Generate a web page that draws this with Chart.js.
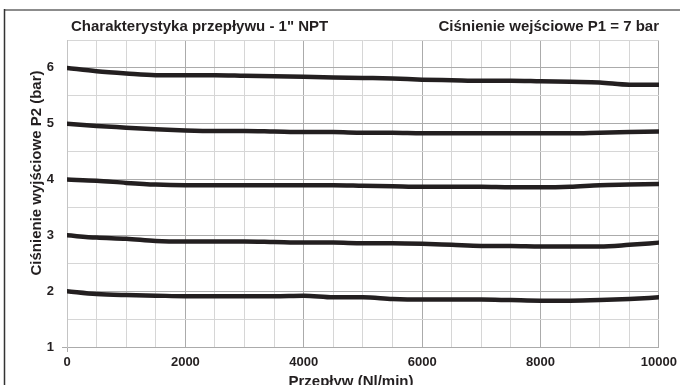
<!DOCTYPE html>
<html>
<head>
<meta charset="utf-8">
<script src="https://cdn.jsdelivr.net/npm/chart.js@4.4.0/dist/chart.umd.min.js"></script>
<style>
  html, body { margin: 0; padding: 0; background: #fff; }
  #wrap { width: 680px; height: 385px; position: relative; }
</style>
</head>
<body>
<div id="wrap"><canvas id="flowChart" width="680" height="385"></canvas></div>
<script>
const flow = [0, 500, 1000, 1500, 2000, 2500, 3000, 3500, 4000, 4500, 5000,
  5500, 6000, 6500, 7000, 7500, 8000, 8500, 9000, 9500, 10000];

const p2at6 = [6.00, 5.94, 5.90, 5.87, 5.87, 5.87, 5.86, 5.85, 5.84, 5.83, 5.82,
  5.81, 5.79, 5.78, 5.77, 5.77, 5.76, 5.75, 5.74, 5.70, 5.70];
const p2at5 = [5.00, 4.96, 4.93, 4.90, 4.88, 4.87, 4.87, 4.86, 4.85, 4.85, 4.84,
  4.84, 4.83, 4.83, 4.83, 4.83, 4.83, 4.83, 4.84, 4.85, 4.86];
const p2at4 = [4.00, 3.98, 3.94, 3.91, 3.90, 3.90, 3.90, 3.90, 3.90, 3.90, 3.89,
  3.88, 3.87, 3.87, 3.87, 3.86, 3.86, 3.87, 3.90, 3.91, 3.92];
const p2at3 = [3.00, 2.96, 2.94, 2.90, 2.89, 2.89, 2.89, 2.88, 2.87, 2.87, 2.86,
  2.86, 2.85, 2.83, 2.81, 2.81, 2.80, 2.80, 2.80, 2.83, 2.87];
const p2at2 = [2.00, 1.95, 1.93, 1.92, 1.91, 1.91, 1.91, 1.91, 1.92, 1.89, 1.89,
  1.86, 1.85, 1.85, 1.85, 1.84, 1.83, 1.83, 1.84, 1.86, 1.89];

const xTickLabels = [0, 2000, 4000, 6000, 8000, 10000];
const yTickLabels = [1, 2, 3, 4, 5, 6];

const chartTitle = 'Charakterystyka przepływu - 1" NPT';
const inletLabel = 'Ciśnienie wejściowe P1 = 7 bar';
const xTitle = 'Przepływ (Nl/min)';
const yTitle = 'Ciśnienie wyjściowe P2 (bar)';

const FONT = '"Liberation Sans", Arial, Helvetica, sans-serif';
const lineColor = '#231f20';
const majorGrid = '#ababab';
const minorGrid = '#d6d6d6';

const series = [p2at6, p2at5, p2at4, p2at3, p2at2];

const framePlugin = {
  id: 'frame',
  afterDraw(chart) {
    const ctx = chart.ctx;
    ctx.save();
    // outer frame bits
    ctx.strokeStyle = '#8c8c8c';
    ctx.lineWidth = 2;
    ctx.beginPath();
    ctx.moveTo(4, 10);
    ctx.lineTo(680, 10);
    ctx.stroke();
    ctx.strokeStyle = '#333';
    ctx.lineWidth = 1.5;
    ctx.beginPath();
    ctx.moveTo(4.5, 9);
    ctx.lineTo(4.5, 385);
    ctx.stroke();

    ctx.fillStyle = '#231f20';
    ctx.font = 'bold 15px ' + FONT;
    ctx.textBaseline = 'alphabetic';
    ctx.textAlign = 'left';
    ctx.fillText(chartTitle, 71, 31);
    ctx.textAlign = 'right';
    ctx.fillText(inletLabel, 659, 31);

    ctx.textAlign = 'center';
    ctx.fillText(xTitle, 351, 386);

    ctx.translate(41, 173);
    ctx.rotate(-Math.PI / 2);
    ctx.fillText(yTitle, 0, 0);
    ctx.restore();
  }
};

const ctx = document.getElementById('flowChart').getContext('2d');
new Chart(ctx, {
  type: 'line',
  data: {
    datasets: series.map(s => ({
      data: flow.map((f, i) => ({ x: f, y: s[i] })),
      borderColor: lineColor,
      borderWidth: 4.5,
      pointRadius: 0,
      cubicInterpolationMode: 'monotone',
      borderCapStyle: 'round',
      fill: false
    }))
  },
  options: {
    responsive: false,
    animation: false,
    layout: { padding: { left: 0, right: 21, top: 40, bottom: 0 } },
    plugins: {
      legend: { display: false },
      tooltip: { enabled: false }
    },
    scales: {
      x: {
        type: 'linear',
        min: 0,
        max: 10000,
        afterFit: scale => { scale.height = 38; },
        ticks: {
          stepSize: 500,
          autoSkip: false,
          maxRotation: 0,
          padding: 3,
          color: '#231f20',
          font: { family: FONT, size: 13, weight: 'bold' },
          callback: v => xTickLabels.includes(v) ? String(v) : ''
        },
        grid: {
          color: c => c.tick.value % 2000 === 0 ? majorGrid : minorGrid,
          tickLength: 5,
          tickColor: c => c.tick.value === 0 ? majorGrid : 'rgba(0,0,0,0)'
        },
        border: { color: majorGrid }
      },
      y: {
        min: 1,
        max: 6.5,
        afterFit: scale => { scale.width = 67; },
        ticks: {
          stepSize: 0.5,
          autoSkip: false,
          padding: 8,
          color: '#231f20',
          font: { family: FONT, size: 13, weight: 'bold' },
          callback: v => yTickLabels.includes(v) ? String(v) : ''
        },
        grid: {
          color: c => Number.isInteger(c.tick.value) ? majorGrid : minorGrid,
          tickLength: 5,
          tickColor: c => c.tick.value === 1 ? majorGrid : 'rgba(0,0,0,0)'
        },
        border: { color: '#c4c4c4' }
      }
    }
  },
  plugins: [framePlugin]
});
</script>
</body>
</html>
